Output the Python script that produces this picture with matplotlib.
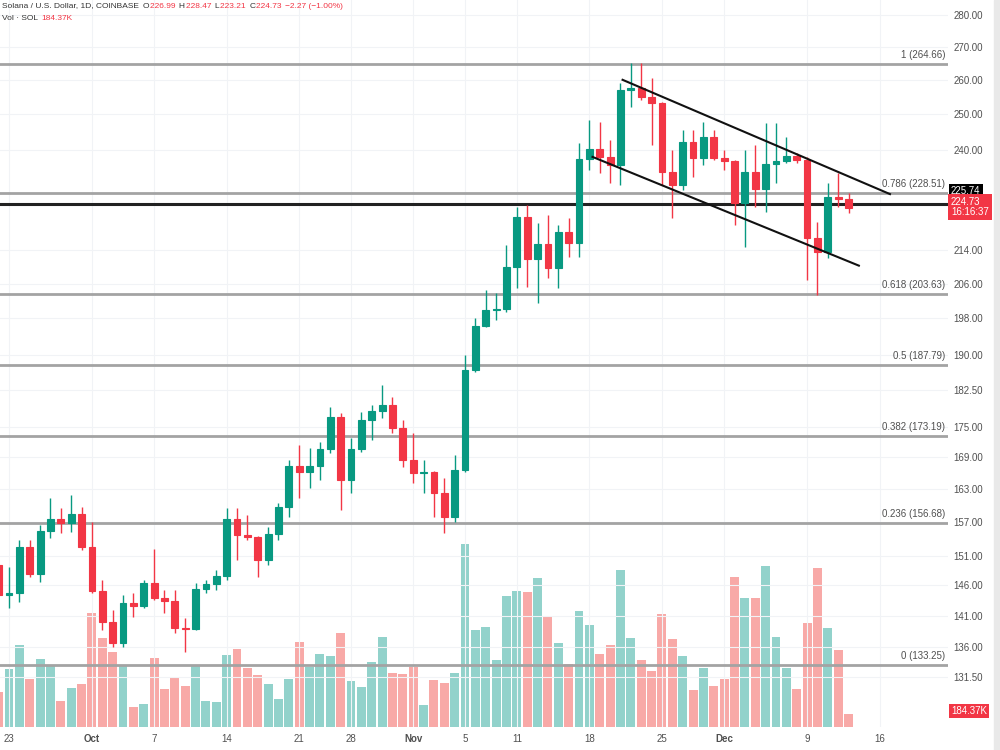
import matplotlib
matplotlib.use("Agg")
import matplotlib.pyplot as plt
from matplotlib.ticker import NullLocator
from matplotlib.transforms import blended_transform_factory

plt.rcParams['font.family'] = ['Liberation Sans', 'DejaVu Sans']

# Дневные свечи SOL/USD, индекс дня 0 = 23 сентября
days = list(range(-1, 82))
opens = [149.4, 144.4, 144.7, 152.5, 147.9, 155.3, 157.5, 156.8, 158.4, 152.5,
         145.1, 140.0, 136.7, 143.1, 142.6, 146.4, 143.9, 143.4, 139.1, 138.9,
         145.4, 146.2, 147.6, 157.5, 154.6, 154.3, 150.3, 154.8, 159.7, 167.3,
         166.2, 167.3, 170.6, 176.9, 164.7, 170.6, 176.3, 178.2, 179.4, 174.7,
         168.5, 166.0, 166.2, 162.2, 157.9, 166.5, 186.7, 196.3, 199.9, 200.1,
         210.0, 222.3, 211.9, 215.6, 209.8, 218.6, 215.8, 237.6, 240.3, 238.1,
         235.9, 257.0, 257.6, 254.9, 253.2, 234.0, 230.6, 242.2, 237.8, 243.6,
         237.8, 236.9, 225.9, 234.0, 229.5, 236.2, 237.0, 238.4, 237.3, 217.1,
         213.6, 227.5, 226.99]
highs = [150.3, 149.1, 153.8, 153.8, 156.4, 161.3, 159.5, 161.9, 159.7, 157.0,
         146.9, 142.0, 144.4, 144.7, 146.9, 152.2, 145.2, 145.2, 140.7, 146.4,
         146.9, 148.6, 159.5, 159.5, 158.2, 154.5, 156.1, 160.4, 168.5, 171.4,
         170.8, 172.0, 179.0, 177.7, 172.8, 178.0, 179.4, 183.5, 181.0, 176.3,
         173.7, 168.5, 166.4, 165.0, 169.4, 189.9, 198.1, 204.5, 203.8, 215.3,
         224.9, 225.4, 220.8, 222.8, 220.3, 222.1, 241.9, 248.4, 247.8, 242.8,
         259.1, 265.0, 265.0, 260.6, 253.5, 240.0, 245.6, 245.6, 247.8, 245.6,
         240.0, 237.2, 240.0, 241.4, 247.5, 247.5, 243.6, 239.2, 238.1, 221.1,
         231.1, 233.8, 228.47]
lows = [143.6, 142.3, 143.3, 147.4, 146.6, 154.1, 155.0, 155.2, 152.0, 144.7,
        138.8, 136.1, 136.1, 140.8, 142.3, 143.6, 141.5, 138.3, 135.3, 138.8,
        144.7, 145.2, 146.9, 150.3, 153.8, 147.4, 149.4, 153.8, 157.9, 161.3,
        163.2, 164.7, 169.8, 159.1, 162.2, 170.0, 172.4, 176.7, 173.7, 167.1,
        164.1, 162.2, 157.9, 155.0, 157.0, 166.1, 186.3, 196.1, 197.7, 199.5,
        205.0, 205.3, 201.5, 207.4, 205.0, 212.4, 212.4, 234.6, 233.8, 231.1,
        230.6, 252.1, 254.1, 241.4, 230.6, 222.1, 229.3, 232.7, 235.9, 237.3,
        234.6, 220.3, 214.8, 224.9, 223.6, 231.1, 236.5, 236.5, 206.9, 203.4,
        212.1, 224.9, 223.21]
closes = [144.4, 144.7, 152.5, 147.9, 155.3, 157.5, 156.8, 158.4, 152.5, 145.1,
          140.0, 136.7, 143.1, 142.6, 146.4, 143.9, 143.4, 139.1, 138.9, 145.4,
          146.2, 147.6, 157.5, 154.6, 154.3, 150.3, 154.8, 159.7, 167.3, 166.2,
          167.3, 170.6, 176.9, 164.7, 170.6, 176.3, 178.2, 179.4, 174.7, 168.5,
          166.0, 166.2, 162.2, 157.9, 166.5, 186.7, 196.3, 199.9, 200.1, 210.0,
          222.3, 211.9, 215.6, 209.8, 218.6, 215.8, 237.6, 240.3, 238.1, 235.9,
          257.0, 257.6, 254.9, 253.2, 234.0, 230.6, 242.2, 237.8, 243.6, 237.8,
          236.9, 225.9, 234.0, 229.5, 236.2, 237.0, 238.4, 237.3, 217.1, 213.6,
          227.5, 227.0, 224.73]
# Объём, тыс. SOL
volume_k = [490, 812, 1134, 672, 952, 868, 364, 546, 602, 1582,
            1232, 1050, 868, 280, 322, 966, 532, 700, 574, 854,
            364, 350, 1008, 1078, 826, 728, 602, 392, 672, 1176,
            840, 1022, 994, 1302, 644, 560, 910, 1246, 756, 742,
            840, 308, 658, 616, 756, 2548, 1344, 1386, 938, 1820,
            1890, 1876, 2072, 1540, 1162, 882, 1610, 1414, 1022, 1134,
            2184, 1232, 938, 784, 1568, 1218, 994, 518, 826, 574,
            672, 2086, 1792, 1792, 2240, 1246, 826, 532, 1442, 2212,
            1372, 1064, 184.37]

# Уровни Фибоначчи
fib_ratios = ['1', '0.786', '0.618', '0.5', '0.382', '0.236', '0']
fib_prices = [264.66, 228.51, 203.63, 187.79, 173.19, 156.68, 133.25]
hline_price = 225.74

# Нисходящий канал
upper_days = [59.2, 85.0]
upper_prices = [260.0, 228.2]
lower_days = [56.3, 82.0]
lower_prices = [238.1, 210.3]

# Подписи осей
price_ticks = [280, 270, 260, 250, 240, 214, 206, 198, 190, 182.5,
               175, 169, 163, 157, 151, 146, 141, 136, 131.5]
date_ticks = [0, 8, 14, 21, 28, 33, 39, 44, 49, 56, 63, 69, 77, 84]
date_labels = ['23', 'Oct', '7', '14', '21', '28', 'Nov', '5', '11', '18',
               '25', 'Dec', '9', '16']

up_col = '#089981'
down_col = '#f23645'
up_vol = '#92d2cb'
down_vol = '#f8a9a7'
text_col = '#505050'

fig = plt.figure(figsize=(10, 7.5), dpi=100)
ax = fig.add_axes([0, 23 / 750, 0.948, 727 / 750])
vax = ax.twinx()
ax.set_zorder(2)
ax.patch.set_visible(False)
vax.set_zorder(1)

# Объём
vcolors = [up_vol if c >= o else down_vol for o, c in zip(opens, closes)]
vax.bar(days, volume_k, width=0.86, color=vcolors, linewidth=0)
vax.set_ylim(0, max(volume_k) / 0.252)
vax.set_yticks([])

# Свечи
colors = [up_col if c >= o else down_col for o, c in zip(opens, closes)]
ax.vlines(days, lows, highs, colors=colors, linewidth=1, zorder=3)
bottoms = [min(o, c) for o, c in zip(opens, closes)]
heights = [abs(c - o) for o, c in zip(opens, closes)]
ax.bar(days, heights, bottom=bottoms, width=0.66, color=colors,
       edgecolor=colors, linewidth=0.8, zorder=4)

ax.set_yscale('log')
ax.set_ylim(124.2, 284.8)
ax.set_xlim(-0.87, 90.6)

# Сетка
for p in price_ticks:
    ax.axhline(p, color='#f1f3f6', linewidth=0.8, zorder=0)
for d in date_ticks:
    ax.axvline(d, color='#f1f3f6', linewidth=0.8, zorder=0)

# Фибо-уровни
tr = blended_transform_factory(ax.transAxes, ax.transData)
for r, p in zip(fib_ratios, fib_prices):
    ax.axhline(p, color='#a3a3a3', linewidth=2, zorder=2)
    ax.annotate(f'{r} ({p:.2f})', xy=(0.997, p), xycoords=tr,
                xytext=(0, 3), textcoords='offset points',
                ha='right', va='bottom', fontsize=7, color=text_col)
ax.axhline(hline_price, color='#222222', linewidth=2.2, zorder=2)

# Линии канала
ax.plot(upper_days, upper_prices, color='#111111', linewidth=1.5, zorder=5)
ax.plot(lower_days, lower_prices, color='#111111', linewidth=1.5, zorder=5)

# Оси
ax.yaxis.tick_right()
ax.set_yticks(price_ticks)
ax.set_yticklabels([f'{p:.2f}' for p in price_ticks])
ax.yaxis.set_minor_locator(NullLocator())
ax.tick_params(axis='y', length=0, pad=4, labelsize=7, labelcolor=text_col)
ax.set_xticks(date_ticks)
ax.set_xticklabels(date_labels)
ax.tick_params(axis='x', length=0, pad=5, labelsize=7, labelcolor=text_col)
for lbl in ax.get_xticklabels():
    if lbl.get_text() in ('Oct', 'Nov', 'Dec'):
        lbl.set_fontweight('bold')
for s in list(ax.spines.values()) + list(vax.spines.values()):
    s.set_visible(False)

# Метки цены справа
fig.text(0.951, 1 - 191 / 750, '225.74', color='white', fontsize=7, va='center',
         bbox=dict(facecolor='black', edgecolor='none', pad=1.5))
fig.text(0.951, 1 - 207 / 750, '224.73\n16:16:37', color='white', fontsize=7,
         va='center', linespacing=1.1,
         bbox=dict(facecolor=down_col, edgecolor='none', pad=2))
fig.text(0.951, 1 - 711 / 750, '184.37K', color='white', fontsize=7, va='center',
         bbox=dict(facecolor=down_col, edgecolor='none', pad=1.5))

# Легенда вверху: куски текста идут друг за другом
renderer = fig.canvas.get_renderer()


def legend_line(pieces, y):
    x = 2
    for txt, col in pieces:
        t = fig.text(x / 1000, 1 - y / 750, txt, fontsize=6, color=col, va='center')
        x = t.get_window_extent(renderer).x1 + 1


legend_line([('Solana / U.S. Dollar, 1D, COINBASE ', '#333333'),
             ('O', '#333333'), ('226.99 ', down_col),
             ('H', '#333333'), ('228.47 ', down_col),
             ('L', '#333333'), ('223.21 ', down_col),
             ('C', '#333333'), ('224.73 ', down_col),
             ('\u22122.27 (\u22121.00%)', down_col)], 6)
legend_line([('Vol \u00b7 SOL ', '#333333'), ('184.37K', down_col)], 18)

fig.patches.append(plt.Rectangle((0.994, 0), 0.006, 1, transform=fig.transFigure,
                                 color='#e9e9e9', zorder=0))

fig.savefig('out.png', dpi=100, facecolor='white')
